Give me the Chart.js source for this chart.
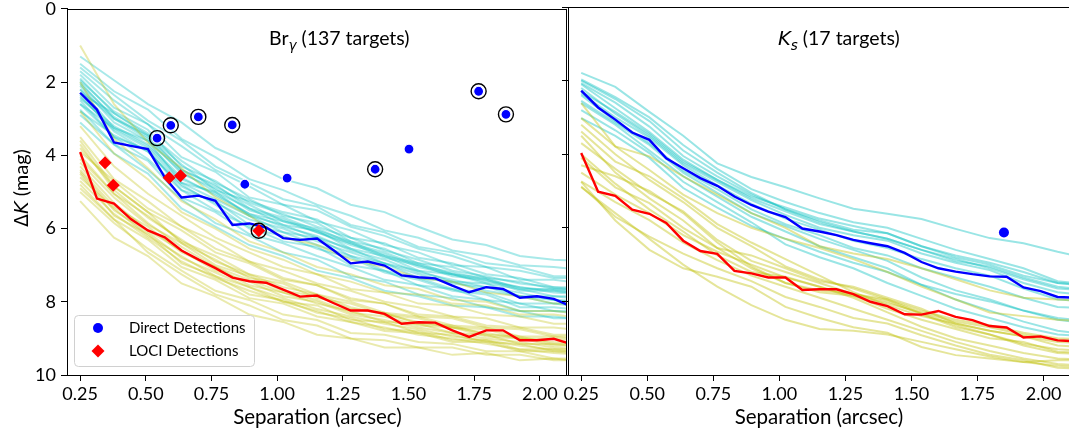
<!DOCTYPE html>
<html><head><meta charset="utf-8">
<script src="https://cdn.jsdelivr.net/npm/chart.js@4.4.1/dist/chart.umd.min.js"></script>
<style>
html,body{margin:0;padding:0;background:#fff;overflow:hidden;width:1069px;height:437px;}
#w{position:relative;width:1069px;height:437px;overflow:hidden;background:#fff;}
#c1{position:absolute;left:0;top:0;width:575px;height:437px;}
#c2{position:absolute;left:560px;top:0;width:515px;height:437px;}
</style></head><body>
<div id="w"><canvas id="c1" width="575" height="437"></canvas><canvas id="c2" width="515" height="437"></canvas></div>
<script>
// ---------------- data ----------------
const xTicks = [0.25,0.50,0.75,1.00,1.25,1.50,1.75,2.00];
const yTicks = [0,2,4,6,8,10];

// separation grids (arcsec)
const sepFine = [0.250,0.314,0.379,0.443,0.508,0.572,0.636,0.701,0.765,0.830,0.894,0.958,1.023,1.087,1.152,1.216,1.280,1.345,1.409,1.474,1.538,1.602,1.667,1.731,1.796,1.860,1.924,1.989,2.053,2.118];
const sepCoarse = [0.250,0.379,0.508,0.636,0.765,0.894,1.023,1.152,1.280,1.409,1.538,1.667,1.796,1.924,2.053,2.182];

// Br-gamma medians
const brgDirectMedian = [2.29,2.75,3.65,3.74,3.83,4.60,5.15,5.10,5.24,5.90,5.86,5.97,6.26,6.31,6.27,6.60,6.95,6.90,7.01,7.28,7.33,7.36,7.56,7.74,7.60,7.65,7.89,7.85,7.92,8.12];
const brgLociMedian   = [3.91,5.18,5.32,5.74,6.05,6.24,6.60,6.85,7.08,7.34,7.44,7.48,7.67,7.86,7.83,8.04,8.24,8.24,8.33,8.60,8.56,8.57,8.78,8.96,8.78,8.78,9.05,9.05,9.01,9.15];

// Ks medians
const ksDirectMedian = [2.27,2.73,3.06,3.41,3.61,4.11,4.38,4.65,4.86,5.15,5.38,5.56,5.71,6.02,6.10,6.20,6.33,6.42,6.50,6.68,6.93,7.10,7.19,7.26,7.32,7.33,7.62,7.72,7.88,7.90];
const ksLociMedian   = [3.97,5.02,5.13,5.51,5.62,5.87,6.35,6.63,6.71,7.17,7.24,7.35,7.35,7.69,7.67,7.67,7.80,8.01,8.13,8.35,8.36,8.26,8.42,8.51,8.67,8.71,8.98,8.95,9.06,9.08];

// individual Br-gamma contrast curves (on sepCoarse)
const brgDirectCurves = [
[1.3,1.95,2.6,3.1,3.8,4.2,4.65,4.9,5.35,5.55,5.95,6.3,6.45,6.75,6.85,6.9],
[1.5,2.25,2.75,3.55,4.05,4.65,4.95,5.35,5.65,6.05,6.25,6.6,6.75,7.0,7.05,7.15],
[1.7,2.5,3.15,3.75,4.4,4.85,5.35,5.5,5.95,6.2,6.55,6.75,7.05,7.15,7.35,7.35],
[1.8,2.7,3.15,4.05,4.45,5.15,5.35,5.8,6.05,6.45,6.65,7.0,7.05,7.4,7.4,7.5],
[1.9,2.85,3.4,4.15,4.75,5.2,5.65,5.85,6.35,6.55,6.95,7.05,7.35,7.45,7.65,7.65],
[2.0,3.0,3.45,4.4,4.8,5.45,5.7,6.05,6.35,6.75,6.95,7.25,7.35,7.65,7.65,7.75],
[2.1,3.1,3.6,4.45,5.0,5.45,5.9,6.05,6.55,6.75,7.15,7.25,7.5,7.65,7.85,7.85],
[2.2,3.25,3.6,4.75,5.0,5.65,5.9,6.25,6.55,6.95,7.15,7.45,7.5,7.85,7.85,7.95],
[2.4,3.3,3.8,4.75,5.2,5.65,6.1,6.25,6.75,6.95,7.35,7.45,7.7,7.85,8.05,8.05],
[2.5,3.5,3.85,4.95,5.25,5.9,6.1,6.45,6.75,7.15,7.35,7.65,7.75,8.05,8.05,8.15],
[2.6,3.5,4.1,4.95,5.5,5.95,6.35,6.5,7.0,7.15,7.55,7.65,7.95,8.05,8.25,8.25],
[2.75,3.7,4.15,5.15,5.55,6.15,6.4,6.75,7.05,7.4,7.55,7.85,7.95,8.25,8.25,8.35],
[2.9,3.7,4.4,5.2,5.85,6.2,6.65,6.85,7.3,7.45,7.8,7.9,8.15,8.25,8.45,8.45],
[3.1,3.95,4.5,5.45,5.95,6.45,6.75,7.15,7.35,7.7,7.85,8.1,8.15,8.4,8.4,8.5],
[2.3,2.85,3.45,4.25,4.95,5.25,5.55,5.75,6.25,6.4,6.8,6.95,7.25,7.35,7.6,7.6],
[2.6,3.25,3.75,4.65,5.05,5.6,5.8,6.1,6.4,6.8,7.0,7.3,7.4,7.7,7.7,7.8],
[1.6,2.35,3.05,3.6,4.3,4.75,5.2,5.4,5.9,6.1,6.5,6.65,6.95,7.05,7.3,7.3],
[2.8,3.45,3.9,4.8,5.35,6.0,6.2,6.55,6.8,7.2,7.4,7.7,7.8,8.15,8.15,8.25],
[2.2,3.0,3.55,4.5,4.9,5.5,5.75,6.1,6.45,6.7,7.05,7.25,7.45,7.6,7.75,7.8],
[2.45,3.2,3.7,4.6,5.1,5.6,5.95,6.2,6.6,6.85,7.2,7.4,7.6,7.75,7.95,8.0],
[1.95,2.8,3.3,4.3,4.7,5.3,5.6,5.95,6.25,6.6,6.85,7.15,7.3,7.5,7.6,7.7],
[2.35,3.35,3.9,4.85,5.3,5.75,6.0,6.35,6.65,6.95,7.25,7.5,7.6,7.85,7.95,8.05],
[2.05,2.95,3.5,4.4,4.85,5.35,5.8,6.0,6.4,6.65,7.0,7.2,7.4,7.6,7.7,7.75]
];
const brgLociCurves = [
[1.0,2.6,3.65,4.35,5.15,5.65,6.25,6.45,6.85,7.05,7.35,7.45,7.75,7.85,8.05,8.05],
[2.0,3.55,4.35,5.25,5.75,6.35,6.65,7.05,7.25,7.55,7.65,7.95,8.0,8.25,8.25,8.35],
[3.2,4.3,5.05,5.65,6.25,6.65,7.05,7.25,7.65,7.75,8.05,8.1,8.35,8.4,8.6,8.6],
[3.5,4.65,5.25,5.95,6.35,6.9,7.15,7.5,7.7,8.0,8.15,8.4,8.45,8.7,8.7,8.8],
[3.8,4.85,5.55,6.05,6.65,6.95,7.4,7.55,7.95,8.05,8.4,8.45,8.7,8.75,8.95,8.95],
[4.0,5.05,5.65,6.35,6.75,7.25,7.45,7.8,8.0,8.3,8.4,8.65,8.7,8.95,8.95,9.05],
[4.2,5.15,5.9,6.4,7.0,7.3,7.7,7.85,8.2,8.3,8.6,8.65,8.9,8.95,9.15,9.15],
[4.4,5.4,5.95,6.65,7.05,7.55,7.75,8.05,8.25,8.55,8.6,8.85,8.9,9.15,9.15,9.25],
[4.6,5.45,6.2,6.75,7.3,7.6,8.0,8.1,8.5,8.55,8.85,8.9,9.1,9.15,9.35,9.35],
[4.8,5.75,6.3,7.05,7.4,7.9,8.05,8.4,8.55,8.8,8.85,9.1,9.1,9.35,9.35,9.45],
[5.0,5.85,6.55,7.15,7.7,7.95,8.35,8.5,8.85,8.9,9.1,9.15,9.35,9.35,9.55,9.55],
[5.25,6.25,6.75,7.5,7.85,8.35,8.55,8.9,9.0,9.25,9.25,9.45,9.4,9.6,9.55,9.65],
[3.9,4.7,5.45,5.95,6.55,6.9,7.35,7.55,7.9,8.05,8.35,8.4,8.65,8.7,8.9,8.9],
[4.5,5.65,6.15,6.95,7.3,7.8,7.95,8.3,8.45,8.75,8.8,9.05,9.05,9.3,9.3,9.4],
[4.1,5.05,5.85,6.5,7.05,7.4,7.75,7.95,8.3,8.4,8.65,8.7,8.95,9.0,9.2,9.2],
[2.8,3.95,4.65,5.55,6.0,6.55,6.85,7.25,7.45,7.75,7.8,8.05,8.1,8.35,8.35,8.45],
[4.9,5.75,6.65,7.25,7.8,8.1,8.5,8.65,9.0,9.05,9.25,9.25,9.45,9.45,9.6,9.6],
[3.6,4.85,5.55,6.4,6.85,7.35,7.5,7.9,8.05,8.35,8.45,8.7,8.75,9.0,9.0,9.1],
[4.3,5.3,6.05,6.6,7.15,7.45,7.85,8.0,8.35,8.5,8.7,8.85,9.0,9.1,9.25,9.3],
[4.7,5.6,6.25,6.9,7.35,7.7,8.0,8.25,8.55,8.7,8.9,9.0,9.15,9.3,9.4,9.45],
[3.7,4.95,5.7,6.3,6.9,7.25,7.6,7.8,8.15,8.35,8.55,8.7,8.85,9.0,9.1,9.15],
[4.45,5.5,6.1,6.8,7.2,7.6,7.9,8.2,8.4,8.6,8.75,8.95,9.05,9.2,9.3,9.3]
];

// individual Ks contrast curves (on sepCoarse)
const ksDirectCurves = [
[1.79,2.17,2.85,3.5,4.25,4.62,4.9,5.2,5.48,5.62,5.76,6.03,6.28,6.42,6.65,6.85],
[1.97,2.45,3.0,3.75,4.4,4.95,5.3,5.6,5.85,6.0,6.3,6.6,6.85,7.1,7.45,7.55],
[2.07,2.6,3.25,4.05,4.6,5.1,5.5,5.8,6.05,6.15,6.5,6.75,6.95,7.2,7.5,7.6],
[2.1,2.75,3.4,4.15,4.7,5.2,5.55,5.9,6.1,6.3,6.6,6.9,7.05,7.35,7.6,7.7],
[2.2,2.9,3.5,4.25,4.75,5.25,5.65,6.0,6.2,6.35,6.7,6.95,7.15,7.5,7.75,7.85],
[2.35,3.0,3.55,4.3,4.85,5.35,5.75,6.05,6.35,6.55,6.85,7.1,7.3,7.65,7.95,8.0],
[2.4,3.1,3.7,4.45,4.95,5.5,5.9,6.2,6.55,6.75,7.1,7.35,7.6,7.9,8.15,8.2],
[2.55,3.15,3.75,4.5,5.05,5.6,5.95,6.3,6.6,6.9,7.35,7.7,7.95,8.25,8.5,8.6],
[2.61,3.2,3.9,4.6,5.15,5.7,6.1,6.5,6.8,7.1,7.55,7.95,8.25,8.55,8.8,8.9],
[2.8,3.35,3.97,4.75,5.3,5.85,6.45,6.8,7.1,7.5,7.85,8.2,8.45,8.7,8.9,8.95],
[3.02,3.5,4.1,4.92,5.45,5.95,6.3,6.65,6.95,7.2,7.55,7.8,8.0,8.25,8.45,8.55],
[2.3,2.85,3.45,4.2,4.7,5.15,5.45,5.75,5.95,6.15,6.5,6.8,7.0,7.3,7.5,7.55],
[2.0,2.5,3.1,3.9,4.5,5.05,5.5,5.85,6.1,6.3,6.6,6.85,7.1,7.4,7.65,7.7]
];
const ksLociCurves = [
[2.61,3.79,4.06,4.6,5.1,5.6,6.0,6.5,6.7,6.85,7.1,7.4,7.7,7.9,7.95,8.0],
[3.02,3.79,4.43,5.1,5.6,6.0,6.3,6.55,6.85,7.2,7.6,7.95,8.3,8.4,8.5,8.55],
[3.38,4.2,4.6,5.2,5.9,6.4,6.85,7.3,7.75,8.1,8.4,8.6,8.8,8.95,9.1,9.15],
[3.7,4.4,5.06,5.55,6.33,6.9,7.2,7.5,7.8,8.0,8.35,8.7,8.9,9.15,9.3,9.35],
[4.1,4.9,5.33,6.0,6.55,6.75,7.1,7.45,7.6,7.9,8.2,8.6,8.8,8.95,9.2,9.25],
[4.5,5.1,5.6,6.2,6.65,7.0,7.35,7.6,7.85,8.05,8.3,8.55,8.7,8.9,9.05,9.1],
[4.74,5.3,5.79,6.4,6.88,7.3,7.6,7.9,8.2,8.5,8.8,9.1,9.35,9.55,9.7,9.75],
[4.88,5.7,6.24,6.7,7.1,7.45,7.88,8.15,8.45,8.6,8.92,9.2,9.45,9.6,9.8,9.85],
[4.75,5.8,6.6,7.1,7.33,7.6,8.15,8.45,8.7,8.85,9.24,9.46,9.55,9.65,9.6,9.6],
[3.2,4.0,4.7,5.3,6.0,6.5,7.05,7.4,7.65,7.95,8.25,8.5,8.65,8.85,9.0,9.05],
[3.5,4.5,5.2,5.8,6.55,7.1,7.5,7.7,7.8,7.95,8.33,8.65,8.9,9.2,9.4,9.45],
[4.3,4.6,5.0,5.6,6.4,7.05,7.5,7.75,7.85,8.2,8.5,8.75,9.0,9.1,9.37,9.4],
[4.0,4.8,5.5,6.1,6.75,7.2,7.33,7.6,7.9,8.3,8.69,9.0,9.2,9.4,9.55,9.6],
[4.9,5.6,6.3,7.0,7.6,8.1,8.5,8.75,8.8,8.9,9.1,9.3,9.5,9.65,9.75,9.8]
];

// detections
const brgDirectSep = [0.543,0.595,0.700,0.829,0.877,1.038,1.373,1.502,1.767,1.871];
const brgDirectDK  = [3.53,3.18,2.95,3.17,4.79,4.62,4.38,3.83,2.25,2.88];
const brgConfirmedSep = [0.543,0.595,0.700,0.829,1.373,1.767,1.871,0.930];
const brgConfirmedDK  = [3.53,3.18,2.95,3.17,4.38,2.25,2.88,6.06];
const brgLociSep = [0.345,0.376,0.589,0.632,0.930];
const brgLociDK  = [4.20,4.82,4.61,4.56,6.06];
const ksDirectSep = [1.850];
const ksDirectDK  = [6.13];

// ---------------- helpers ----------------
const pts = (xs, ys) => ys.map((y, i) => ({x: xs[i], y}));
const CYAN_L = 'rgba(0,191,191,0.34)', OLIVE_L = 'rgba(191,191,0,0.32)';
const CYAN_R = 'rgba(0,191,191,0.40)', OLIVE_R = 'rgba(191,191,0,0.40)';
const LAT = "Lato, 'DejaVu Sans', sans-serif";

// lower "order" = drawn on top
function curveSet(curves, color, order) {
  return curves.map(c => ({type:'line', order, data: pts(sepCoarse, c), borderColor: color, borderWidth: 2,
    pointRadius: 0, fill: false, tension: 0}));
}
function medianSet(vals, color) {
  return {type:'line', order: 2, data: pts(sepFine, vals), borderColor: color, borderWidth: 2.4, pointRadius: 0, fill:false, tension:0};
}
function rich(ctx, parts, x, y) {
  let cx = x;
  for (const [t, f, dy] of parts) { ctx.font = f; ctx.fillText(t, cx, y + (dy || 0)); cx += ctx.measureText(t).width; }
  return cx - x;
}
function richW(ctx, parts) {
  let w = 0; for (const [t, f] of parts) { ctx.font = f; w += ctx.measureText(t).width; } return w;
}

function scales(showY, yWidth) {
  return {
    x: {type:'linear', min:0.2, max:2.1,
      afterFit: s => { s.height = 62; s.paddingLeft = 0; s.paddingRight = 0; },
      afterBuildTicks: s => { s.ticks = xTicks.map(v => ({value: v})); },
      ticks: {font:{family:LAT, size:18}, color:'#000', padding:2, maxRotation:0, autoSkip:false,
        callback: v => Number(v).toFixed(2)},
      grid: {display:true, drawOnChartArea:false, drawTicks:true, tickLength:6, color:'#000', tickWidth:1},
      border: {display:true, color:'#000', width:1}},
    y: {type:'linear', reverse:true, min:0, max:10,
      afterFit: s => { s.width = yWidth; s.paddingTop = 0; s.paddingBottom = 0; },
      afterBuildTicks: s => { s.ticks = yTicks.map(v => ({value: v})); },
      ticks: {display: showY, font:{family:LAT, size:18}, color:'#000', padding:5, callback: v => String(v)},
      grid: {display:true, drawOnChartArea:false, drawTicks:true, tickLength:6, color:'#000', tickWidth:1},
      border: {display:true, color:'#000', width:1}}
  };
}

const framePlugin = {
  id: 'frame',
  afterDraw(chart) {
    const {ctx, chartArea: a} = chart;
    ctx.save(); ctx.strokeStyle = '#000'; ctx.lineWidth = 1;
    ctx.beginPath();
    ctx.moveTo(a.left, Math.round(a.top) + 0.5); ctx.lineTo(a.right, Math.round(a.top) + 0.5);
    ctx.moveTo(Math.round(a.right) + 0.5, a.top); ctx.lineTo(Math.round(a.right) + 0.5, a.bottom);
    ctx.stroke(); ctx.restore();
  }
};

// ---------------- left panel: Br-gamma ----------------
const textLeft = {
  id: 'textLeft',
  afterDraw(chart) {
    const ctx = chart.ctx; ctx.save(); ctx.fillStyle = '#000'; ctx.textBaseline = 'alphabetic'; ctx.textAlign = 'left';
    rich(ctx, [['Br', '19.5px ' + LAT], ['\u03b3', "oblique 13.5px 'DejaVu Sans'", 5], [' (137 targets)', '19.5px ' + LAT]], 269, 45);
    const xt = [['Separation (arcsec)', '20.5px ' + LAT]];
    rich(ctx, xt, 317.5 - richW(ctx, xt) / 2, 424);
    const yt = [['\u0394', "19px 'DejaVu Sans'"], ['K', "oblique 19px 'DejaVu Sans'"], [' (mag)', '20px ' + LAT]];
    ctx.translate(21, 188); ctx.rotate(-Math.PI / 2);
    rich(ctx, yt, -richW(ctx, yt) / 2, 7);
    ctx.restore();
    // legend
    ctx.save();
    ctx.beginPath(); ctx.roundRect(74.5, 315.5, 180, 51, 4);
    ctx.fillStyle = 'rgba(255,255,255,0.8)'; ctx.fill();
    ctx.strokeStyle = '#d0d0d0'; ctx.lineWidth = 1; ctx.stroke();
    ctx.fillStyle = '#0000ff'; ctx.beginPath(); ctx.arc(98, 328, 5, 0, 2 * Math.PI); ctx.fill();
    ctx.fillStyle = '#ff0000'; ctx.beginPath(); ctx.moveTo(98, 344.5); ctx.lineTo(104.5, 351); ctx.lineTo(98, 357.5); ctx.lineTo(91.5, 351); ctx.closePath(); ctx.fill();
    ctx.fillStyle = '#000'; ctx.font = '15px ' + LAT; ctx.textBaseline = 'middle';
    ctx.fillText('Direct Detections', 129, 328);
    ctx.fillText('LOCI Detections', 129, 351);
    ctx.restore();
  }
};

new Chart(document.getElementById('c1'), {
  type: 'line',
  data: { datasets: [
    ...curveSet(brgDirectCurves, CYAN_L, 4),
    ...curveSet(brgLociCurves, OLIVE_L, 3),
    medianSet(brgDirectMedian, '#0000ff'),
    medianSet(brgLociMedian, '#ff0000'),
    {type:'scatter', order: 1, data: pts(brgConfirmedSep, brgConfirmedDK), pointRadius: 7.5, pointBackgroundColor:'rgba(0,0,0,0)', pointBorderColor:'#000', pointBorderWidth:1.4, showLine:false},
    {type:'scatter', order: 0, data: pts(brgDirectSep, brgDirectDK), pointRadius: 5, pointBackgroundColor:'#0000ff', pointBorderColor:'#ffffff', pointBorderWidth:1.2, showLine:false},
    {type:'scatter', order: 0, data: pts(brgLociSep, brgLociDK), pointStyle:'rectRot', pointRadius: 6.5, pointBackgroundColor:'#ff0000', pointBorderColor:'#ff0000', pointBorderWidth:0, showLine:false}
  ]},
  options: {
    responsive:false, animation:false, events:[],
    layout:{padding:{top:7, right:7, left:0, bottom:0}},
    plugins:{legend:{display:false}, tooltip:{enabled:false}, title:{display:false}},
    scales: scales(true, 67)
  },
  plugins:[framePlugin, textLeft]
});

// ---------------- right panel: Ks ----------------
const textRight = {
  id: 'textRight',
  afterDraw(chart) {
    const ctx = chart.ctx; ctx.save(); ctx.fillStyle = '#000'; ctx.textBaseline = 'alphabetic'; ctx.textAlign = 'left';
    rich(ctx, [['K', "oblique 19.5px 'DejaVu Sans'"], ['s', "oblique 13.5px 'DejaVu Sans'", 5], [' (17 targets)', '19.5px ' + LAT]], 778 - 560, 45);
    const xt = [['Separation (arcsec)', '20.5px ' + LAT]];
    rich(ctx, xt, 819 - 560 - richW(ctx, xt) / 2, 424);
    ctx.restore();
  }
};

new Chart(document.getElementById('c2'), {
  type: 'line',
  data: { datasets: [
    ...curveSet(ksDirectCurves, CYAN_R, 4),
    ...curveSet(ksLociCurves, OLIVE_R, 3),
    medianSet(ksDirectMedian, '#0000ff'),
    medianSet(ksLociMedian, '#ff0000'),
    {type:'scatter', order: 0, data: pts(ksDirectSep, ksDirectDK), pointRadius: 5, pointBackgroundColor:'#0000ff', pointBorderColor:'#0000ff', pointBorderWidth:0, showLine:false}
  ]},
  options: {
    responsive:false, animation:false, events:[],
    layout:{padding:{top:7, right:5, left:0, bottom:0}},
    plugins:{legend:{display:false}, tooltip:{enabled:false}, title:{display:false}},
    scales: scales(false, 8)
  },
  plugins:[framePlugin, textRight]
});
</script>
</body></html>
